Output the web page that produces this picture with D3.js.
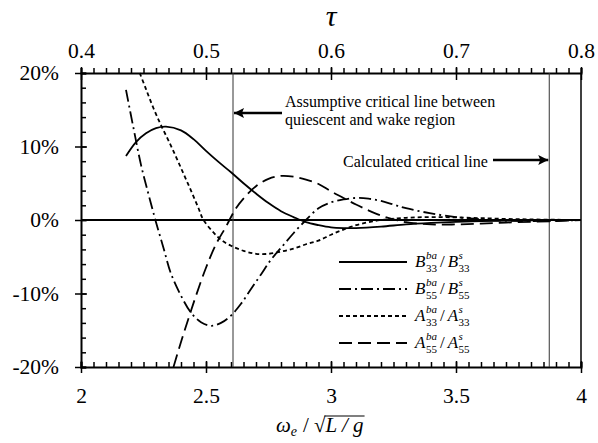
<!DOCTYPE html>
<html>
<head>
<meta charset="utf-8">
<script src="https://cdn.jsdelivr.net/npm/d3@7"></script>
<style>
body { margin: 0; background: white; }
svg text { font-family: "Liberation Serif", "Times New Roman", Tinos, "DejaVu Serif", serif; fill: black; }
</style>
</head>
<body>
<div id="root"></div>
<script>
// Series (x = omega_e / sqrt(L/g), y in %)
var b33X = [2.18, 2.22, 2.26, 2.30, 2.34, 2.40, 2.45, 2.50, 2.55, 2.60, 2.65, 2.70, 2.75, 2.80, 2.85, 2.90, 2.95, 3.00, 3.05, 3.10, 3.20, 3.30, 3.40, 3.50, 3.60, 3.70, 3.80, 4.00];
var b33Y = [8.7, 10.6, 11.8, 12.5, 12.7, 12.2, 11.0, 9.4, 7.9, 6.5, 5.0, 3.6, 2.3, 1.2, 0.4, -0.3, -0.7, -1.0, -1.1, -1.1, -0.9, -0.6, -0.4, -0.25, -0.15, -0.08, -0.04, 0];

var b55X = [2.18, 2.21, 2.24, 2.27, 2.30, 2.33, 2.36, 2.40, 2.44, 2.48, 2.52, 2.56, 2.60, 2.64, 2.68, 2.72, 2.76, 2.80, 2.85, 2.90, 2.95, 3.00, 3.05, 3.10, 3.15, 3.20, 3.25, 3.30, 3.40, 3.50, 3.60, 3.70, 3.80, 3.90, 4.00];
var b55Y = [17.7, 12.5, 7.5, 3.5, -0.3, -3.8, -7.3, -10.3, -12.6, -13.9, -14.4, -14.0, -13.0, -11.4, -9.4, -7.4, -5.4, -3.8, -1.8, 0.0, 1.6, 2.4, 2.8, 3.0, 2.9, 2.6, 2.1, 1.6, 0.9, 0.4, 0.1, -0.1, -0.15, -0.1, 0];

var a33X = [2.235, 2.26, 2.29, 2.32, 2.35, 2.38, 2.41, 2.44, 2.47, 2.49, 2.53, 2.56, 2.60, 2.65, 2.70, 2.75, 2.80, 2.85, 2.90, 2.95, 3.00, 3.05, 3.10, 3.15, 3.20, 3.30, 3.40, 3.50, 3.60, 3.70, 3.80, 4.00];
var a33Y = [20, 17.8, 15.2, 12.9, 10.8, 8.6, 6.3, 4.0, 1.6, 0, -1.7, -2.7, -3.5, -4.2, -4.6, -4.6, -4.3, -3.9, -3.3, -2.8, -2.0, -1.3, -0.7, -0.3, 0.0, 0.3, 0.4, 0.35, 0.25, 0.15, 0.08, 0];

var a55X = [2.37, 2.40, 2.43, 2.46, 2.50, 2.54, 2.58, 2.62, 2.66, 2.70, 2.75, 2.80, 2.85, 2.90, 2.95, 3.00, 3.05, 3.10, 3.15, 3.20, 3.25, 3.30, 3.40, 3.50, 3.60, 3.70, 3.80, 3.90, 4.00];
var a55Y = [-20, -16.6, -13.4, -10.3, -6.5, -3.3, -0.9, 1.6, 3.3, 4.6, 5.6, 6.0, 5.9, 5.5, 4.9, 3.9, 3.0, 2.1, 1.3, 0.6, 0.1, -0.3, -0.6, -0.6, -0.5, -0.35, -0.25, -0.15, 0];

// Tick labels
var xTicks = [2, 2.5, 3, 3.5, 4];
var tauTicks = [0.4, 0.5, 0.6, 0.7, 0.8];
var yTicks = [-20, -10, 0, 10, 20];

// Critical lines
var assumptiveLine = 2.608;
var calculatedLine = 3.873;

var FONT = "'Liberation Serif', 'Times New Roman', Tinos, 'DejaVu Serif', serif";

// Set the dimensions and margins of the graph
var margin = {top: 73, right: 17, bottom: 76, left: 81},
width = 598 - margin.left - margin.right,
height = 443 - margin.top - margin.bottom;

var svg = d3.select("#root")
	.append("svg")
	.attr("width", 598)
	.attr("height", 443)
	.attr("font-family", FONT)
	.append("g")
	.attr("transform", "translate(" + margin.left + "," + margin.top + ")");

var x = d3.scaleLinear().domain([2, 4]).range([0, width]);
var tau = d3.scaleLinear().domain([0.4, 0.8]).range([0, width]);
var y = d3.scaleLinear().domain([-20, 20]).range([height, 0]);

var xMinor = d3.range(2, 4.001, 0.05);
var tauMinor = d3.range(0.4, 0.8001, 0.01);
var yMinor = d3.range(-20, 20.001, 2);

function styleAxis(g, size) {
	g.attr("font-size", size).attr("font-family", FONT);
	g.selectAll("text").attr("font-family", FONT);
	g.selectAll("path.domain").attr("stroke-width", 2);
	g.selectAll(".tick line").attr("stroke-width", 1.5);
}

// Bottom axis
svg.append("g")
	.attr("transform", "translate(0," + height + ")")
	.call(d3.axisBottom(x).tickValues(xMinor).tickSize(-5).tickFormat(""))
	.call(styleAxis, 21.5);
svg.append("g")
	.attr("transform", "translate(0," + height + ")")
	.call(d3.axisBottom(x).tickValues(xTicks).tickSize(6).tickPadding(15).tickFormat(d3.format("")))
	.call(styleAxis, 21.5)
	.call(function(g) { g.select(".domain").remove(); });
svg.append("g")
	.attr("transform", "translate(0," + height + ")")
	.call(d3.axisBottom(x).tickValues(xTicks).tickSize(-6).tickFormat(""))
	.call(styleAxis, 21.5)
	.call(function(g) { g.select(".domain").remove(); });

// Top axis (tau)
svg.append("g")
	.call(d3.axisTop(tau).tickValues(tauMinor).tickSize(5).tickFormat(""))
	.call(styleAxis, 21.5);
svg.append("g")
	.call(d3.axisTop(tau).tickValues(tauTicks).tickSize(6).tickPadding(9).tickFormat(d3.format(".1f")))
	.call(styleAxis, 21.5)
	.call(function(g) { g.select(".domain").remove(); });
svg.append("g")
	.call(d3.axisTop(tau).tickValues(tauTicks).tickSize(-7).tickFormat(""))
	.call(styleAxis, 21.5)
	.call(function(g) { g.select(".domain").remove(); });

// Left axis
svg.append("g")
	.call(d3.axisLeft(y).tickValues(yMinor).tickSize(-5).tickFormat(""))
	.call(styleAxis, 21.5);
svg.append("g")
	.call(d3.axisLeft(y).tickValues(yTicks).tickSize(6).tickPadding(16).tickFormat(function(d) { return d + "%"; }))
	.call(styleAxis, 21.5)
	.call(function(g) { g.select(".domain").remove(); });
svg.append("g")
	.call(d3.axisLeft(y).tickValues(yTicks).tickSize(-6).tickFormat(""))
	.call(styleAxis, 21.5)
	.call(function(g) { g.select(".domain").remove(); });

// Right border
svg.append("line")
	.attr("x1", width).attr("x2", width)
	.attr("y1", 0).attr("y2", height)
	.attr("stroke", "black").attr("stroke-width", 1.5);

// Zero line
svg.append("line")
	.attr("x1", 0).attr("x2", width)
	.attr("y1", y(0)).attr("y2", y(0))
	.attr("stroke", "black").attr("stroke-width", 2);

// Critical lines
[assumptiveLine, calculatedLine].forEach(function(v) {
	svg.append("line")
		.attr("x1", x(v)).attr("x2", x(v))
		.attr("y1", 0).attr("y2", height)
		.attr("stroke", "#333").attr("stroke-width", 1);
});

// Curves
var series = [
	{xs: b33X, ys: b33Y, dash: null},
	{xs: b55X, ys: b55Y, dash: "12,4,2,4"},
	{xs: a33X, ys: a33Y, dash: "4,3"},
	{xs: a55X, ys: a55Y, dash: "13,6"}
];

var line = d3.line()
	.x(function(d) { return x(d[0]); })
	.y(function(d) { return y(d[1]); })
	.curve(d3.curveCatmullRom);

series.forEach(function(s) {
	var pts = s.xs.map(function(v, i) { return [v, s.ys[i]]; });
	svg.append("path")
		.datum(pts)
		.attr("d", line)
		.attr("fill", "none")
		.attr("stroke", "black")
		.attr("stroke-width", 1.8)
		.attr("stroke-dasharray", s.dash);
});

// Arrow marker
var defs = svg.append("defs");
defs.append("marker")
	.attr("id", "arrow")
	.attr("viewBox", "0 0 10 10")
	.attr("refX", 10).attr("refY", 5)
	.attr("markerWidth", 6).attr("markerHeight", 4)
	.attr("markerUnits", "strokeWidth")
	.attr("orient", "auto")
	.append("path")
	.attr("d", "M0,0 L10,5 L0,10 L2,5 Z")
	.attr("fill", "black");

// Annotations
svg.append("line")
	.attr("x1", 282 - margin.left).attr("x2", x(assumptiveLine) + 1)
	.attr("y1", 113 - margin.top).attr("y2", 113 - margin.top)
	.attr("stroke", "black").attr("stroke-width", 2.5)
	.attr("marker-end", "url(#arrow)");
svg.append("text")
	.attr("x", 285 - margin.left).attr("y", 107 - margin.top)
	.attr("font-size", 16)
	.text("Assumptive critical line between");
svg.append("text")
	.attr("x", 285 - margin.left).attr("y", 125 - margin.top)
	.attr("font-size", 16)
	.text("quiescent and wake region");

svg.append("text")
	.attr("x", 343 - margin.left).attr("y", 167 - margin.top)
	.attr("font-size", 16)
	.text("Calculated critical line");
svg.append("line")
	.attr("x1", 493 - margin.left).attr("x2", x(calculatedLine) - 1)
	.attr("y1", 160 - margin.top).attr("y2", 160 - margin.top)
	.attr("stroke", "black").attr("stroke-width", 2.5)
	.attr("marker-end", "url(#arrow)");

// Legend
var legend = svg.append("g");
var legendRows = [
	{dash: null, base: "B", sub: "33", base2: "B"},
	{dash: "12,4,2,4", base: "B", sub: "55", base2: "B"},
	{dash: "4,3", base: "A", sub: "33", base2: "A"},
	{dash: "13,6", base: "A", sub: "55", base2: "A"}
];

function addTerm(g, x0, yb, letter, sup, sub) {
	var t = g.append("text").attr("x", x0).attr("y", yb)
		.attr("font-size", 17).attr("font-style", "italic").text(letter);
	var w = t.node().getComputedTextLength() + 0.5;
	var s1 = g.append("text").attr("x", x0 + w).attr("y", yb - 8)
		.attr("font-size", 11).attr("font-style", "italic").text(sup);
	var s2 = g.append("text").attr("x", x0 + w).attr("y", yb + 5)
		.attr("font-size", 11).text(sub);
	return x0 + w + Math.max(s1.node().getComputedTextLength(), s2.node().getComputedTextLength());
}

legendRows.forEach(function(r, i) {
	var ly = 262 + i * 27 - margin.top;
	legend.append("line")
		.attr("x1", 339 - margin.left).attr("x2", 407 - margin.left)
		.attr("y1", ly).attr("y2", ly)
		.attr("stroke", "black").attr("stroke-width", 1.8)
		.attr("stroke-dasharray", r.dash);
	var xe = addTerm(legend, 415 - margin.left, ly + 5, r.base, "ba", r.sub);
	var sl = legend.append("text").attr("x", xe + 3).attr("y", ly + 5)
		.attr("font-size", 17).text("/");
	var xs = xe + 3 + sl.node().getComputedTextLength() + 3;
	addTerm(legend, xs, ly + 5, r.base2, "s", r.sub);
});

// Top title tau
svg.append("text")
	.attr("x", x(3))
	.attr("y", 26 - margin.top)
	.attr("text-anchor", "middle")
	.attr("font-size", 30)
	.attr("font-style", "italic")
	.text("\u03C4");

// Bottom title: omega_e / sqrt(L / g)
var title = svg.append("g");
var tx = 276 - margin.left, ty = 432 - margin.top;
var om = title.append("text").attr("x", tx).attr("y", ty)
	.attr("font-size", 21).attr("font-style", "italic").text("\u03C9");
tx += om.node().getComputedTextLength();
var sube = title.append("text").attr("x", tx).attr("y", ty + 4)
	.attr("font-size", 14).attr("font-style", "italic").text("e");
tx += sube.node().getComputedTextLength() + 6;
var sl = title.append("text").attr("x", tx).attr("y", ty)
	.attr("font-size", 21).text("/");
tx += sl.node().getComputedTextLength() + 5;
var rt = title.append("text").attr("x", tx).attr("y", ty)
	.attr("font-size", 21).text("\u221A");
tx += rt.node().getComputedTextLength();
var lg = title.append("text").attr("x", tx).attr("y", ty)
	.attr("font-size", 21).attr("font-style", "italic").text("L / g");
var lgw = lg.node().getComputedTextLength();
title.append("line")
	.attr("x1", tx - 1).attr("x2", tx + lgw + 1)
	.attr("y1", ty - 16).attr("y2", ty - 16)
	.attr("stroke", "black").attr("stroke-width", 1.2);
</script>
</body>
</html>
